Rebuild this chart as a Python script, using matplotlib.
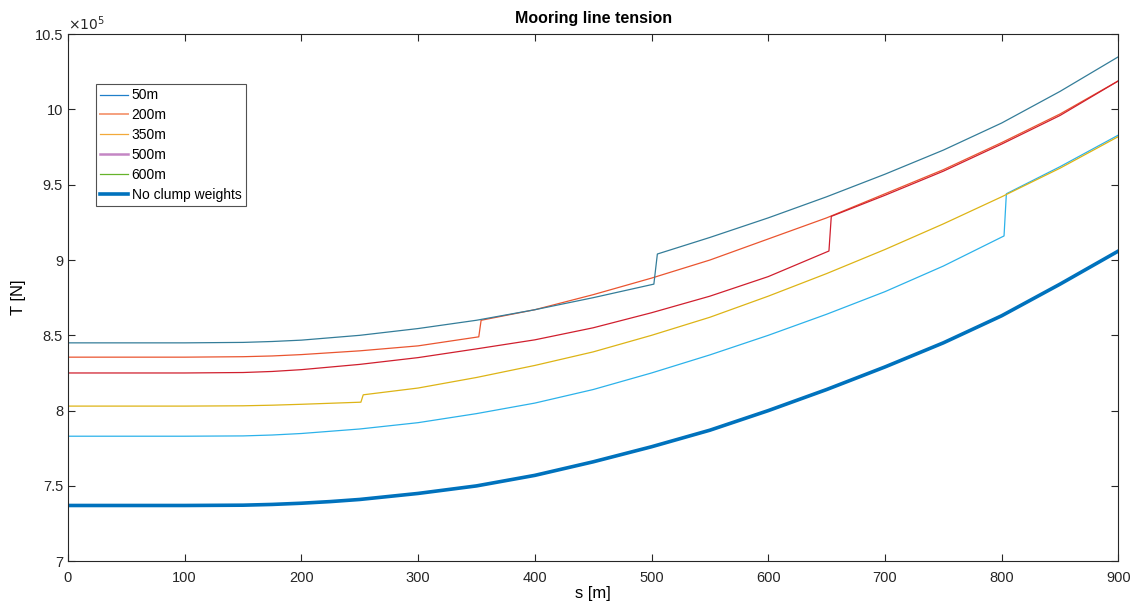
import numpy as np
import matplotlib
matplotlib.use("Agg")
import matplotlib.pyplot as plt
from matplotlib.lines import Line2D
from matplotlib.ticker import FuncFormatter

plt.rcParams['font.family'] = ['Liberation Sans', 'DejaVu Sans']

# arc length along the line [m] and tension [x1e5 N]
s_50 = [0, 100, 150, 175, 200, 250, 300, 350, 400, 450, 502, 505, 550, 600, 650, 700, 750, 800, 850, 900]
t_50 = [8.45, 8.45, 8.453, 8.459, 8.468, 8.50, 8.545, 8.60, 8.67, 8.75, 8.84, 9.04, 9.15, 9.28, 9.42, 9.57, 9.73, 9.91, 10.12, 10.35]

s_200 = [0, 100, 150, 175, 200, 250, 300, 352, 354, 400, 450, 500, 550, 600, 650, 700, 750, 800, 850, 900]
t_200 = [8.355, 8.355, 8.358, 8.363, 8.372, 8.397, 8.43, 8.49, 8.60, 8.67, 8.77, 8.88, 9.00, 9.14, 9.28, 9.44, 9.60, 9.78, 9.97, 10.19]

s_red = [0, 100, 150, 175, 200, 250, 300, 350, 400, 450, 500, 550, 600, 652, 654, 700, 750, 800, 850, 900]
t_red = [8.25, 8.25, 8.253, 8.26, 8.272, 8.307, 8.352, 8.41, 8.47, 8.55, 8.65, 8.76, 8.89, 9.06, 9.29, 9.43, 9.59, 9.77, 9.96, 10.19]

s_gold = [0, 100, 150, 175, 200, 251, 253, 300, 350, 400, 450, 500, 550, 600, 650, 700, 750, 800, 850, 900]
t_gold = [8.03, 8.03, 8.032, 8.036, 8.042, 8.056, 8.105, 8.15, 8.22, 8.30, 8.39, 8.50, 8.62, 8.76, 8.91, 9.07, 9.24, 9.42, 9.61, 9.82]

s_sky = [0, 100, 150, 175, 200, 250, 300, 350, 400, 450, 500, 550, 600, 650, 700, 750, 802, 804, 850, 900]
t_sky = [7.83, 7.83, 7.832, 7.838, 7.848, 7.878, 7.92, 7.98, 8.05, 8.14, 8.25, 8.37, 8.50, 8.64, 8.79, 8.96, 9.16, 9.44, 9.62, 9.83]

s_none = [0, 100, 150, 175, 200, 225, 250, 300, 350, 400, 450, 500, 550, 600, 650, 700, 750, 800, 850, 900]
t_none = [7.37, 7.37, 7.372, 7.377, 7.385, 7.396, 7.41, 7.45, 7.50, 7.57, 7.66, 7.76, 7.87, 8.00, 8.14, 8.29, 8.45, 8.63, 8.84, 9.06]

legend_labels = ['50m', '200m', '350m', '500m', '600m', 'No clump weights']
legend_colors = ['#1f7fc9', '#f5a07e', '#f2a93a', '#c486c4', '#66b32a', '#0072bd']
legend_widths = [0.9, 1.4, 0.9, 1.8, 0.9, 2.6]

fig = plt.figure(figsize=(11.32, 6.1), dpi=100)
ax = fig.add_axes([0.060, 0.080, 0.928, 0.864])

ax.plot(s_none, t_none, color='#0072bd', lw=2.6)
ax.plot(s_sky, t_sky, color='#2cb2ea', lw=0.9)
ax.plot(s_gold, t_gold, color='#ddb416', lw=0.9)
ax.plot(s_200, t_200, color='#ea5530', lw=0.9)
ax.plot(s_red, t_red, color='#d01f2e', lw=0.9)
ax.plot(s_50, t_50, color='#347d99', lw=0.9)

ax.set_xlim(0, 900)
ax.set_ylim(7, 10.5)
ax.set_xticks(np.arange(0, 901, 100))
ax.set_yticks(np.arange(7, 10.51, 0.5))
ax.yaxis.set_major_formatter(FuncFormatter(lambda v, p: '%g' % v))
ax.tick_params(direction='in', top=True, right=True, length=5, width=0.8,
               labelsize=10.5, colors='#262626')
ax.tick_params(axis='x', pad=7)
for sp in ax.spines.values():
    sp.set_linewidth(0.8)
    sp.set_color('#262626')

ax.text(0.0, 1.003, r'$\times10^5$', transform=ax.transAxes, fontsize=10,
        ha='left', va='bottom', color='#262626')
ax.set_title('Mooring line tension', fontsize=11.5, fontweight='bold', pad=8)
ax.set_xlabel('s [m]', fontsize=12, labelpad=1)
ax.set_ylabel('T [N]', fontsize=12, labelpad=6)

handles = [Line2D([], [], color=c, lw=w) for c, w in zip(legend_colors, legend_widths)]
leg = ax.legend(handles, legend_labels, loc='upper left', bbox_to_anchor=(0.027, 0.905),
                fontsize=10, frameon=True, fancybox=False, edgecolor='#262626',
                handlelength=2.0, handletextpad=0.25, labelspacing=0.42,
                borderpad=0.3, borderaxespad=0)
leg.get_frame().set_linewidth(0.8)

fig.savefig('out.png', dpi=100)
